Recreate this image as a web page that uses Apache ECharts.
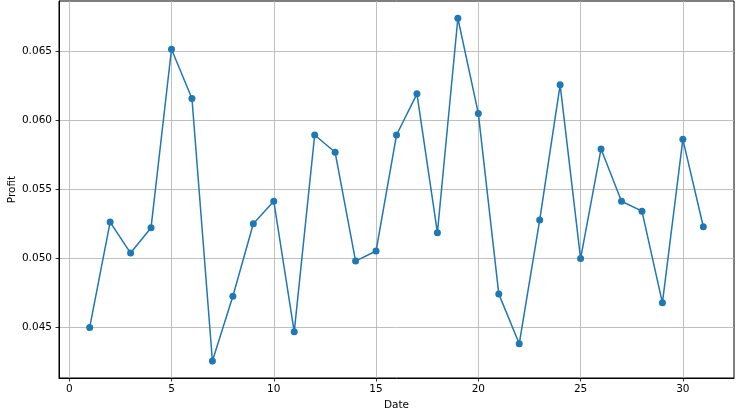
<!DOCTYPE html>
<html>
<head>
<meta charset="utf-8">
<script src="https://cdn.jsdelivr.net/npm/echarts@6/dist/echarts.min.js"></script>
<style>
  html, body { margin: 0; padding: 0; background: #fff; }
  #chart { width: 740px; height: 418px; }
</style>
</head>
<body>
<div id="chart"></div>
<script>
// days 1..31 and the profit
const dates = [1, 2, 3, 4, 5, 6, 7, 8, 9, 10, 11, 12, 13, 14, 15, 16, 17, 18, 19, 20, 21, 22, 23, 24, 25, 26, 27, 28, 29, 30, 31]
const profit = [
  0.04500, 0.05264, 0.05039, 0.05223, 0.06517, 0.06160, 0.04256, 0.04726,
  0.05252, 0.05415, 0.04468, 0.05895, 0.05770, 0.04981, 0.05054, 0.05895,
  0.06194, 0.05187, 0.06742, 0.06052, 0.04743, 0.04381, 0.05278, 0.06259,
  0.04999, 0.05794, 0.05415, 0.05343, 0.04678, 0.05864, 0.05230
]
const xTicks = [0, 5, 10, 15, 20, 25, 30]
const yTicks = [0.045, 0.050, 0.055, 0.060, 0.065]

const chart = echarts.init(document.getElementById('chart'))
const font = 'DejaVu Sans'
const gridLine = { show: true, lineStyle: { color: '#b0b0b0', width: 0.8 } }

chart.setOption({
  animation: false,
  grid: {
    left: 59, right: 6, top: 1, bottom: 40,
    containLabel: false,
    outerBoundsMode: 'none',
    show: true, borderColor: '#000', borderWidth: 1
  },
  xAxis: {
    type: 'value',
    min: -0.5,
    max: 32.5,
    name: 'Date',
    nameLocation: 'middle',
    nameGap: 22,
    nameMoveOverlap: false,
    nameTextStyle: { fontFamily: font, fontSize: 10.5, color: '#000' },
    axisLine: { show: true, onZero: false, lineStyle: { color: '#000', width: 1 } },
    axisTick: { show: true, customValues: xTicks, length: 3.5, lineStyle: { color: '#000', width: 0.8 } },
    axisLabel: { customValues: xTicks, fontFamily: font, fontSize: 10.5, color: '#000', margin: 6 },
    splitLine: gridLine
  },
  yAxis: {
    type: 'value',
    min: 0.04133,
    max: 0.06867,
    name: 'Profit',
    nameLocation: 'middle',
    nameGap: 41,
    nameMoveOverlap: false,
    nameTextStyle: { fontFamily: font, fontSize: 10.5, color: '#000' },
    axisLine: { show: true, onZero: false, lineStyle: { color: '#000', width: 1 } },
    axisTick: { show: true, customValues: yTicks, length: 3.5, lineStyle: { color: '#000', width: 0.8 } },
    axisLabel: {
      customValues: yTicks, fontFamily: font, fontSize: 10.5, color: '#000', margin: 7,
      formatter: v => v.toFixed(3)
    },
    splitLine: gridLine
  },
  series: [
    {
      type: 'line',
      data: dates.map((d, i) => [d, profit[i]]),
      symbol: 'circle',
      symbolSize: 7,
      lineStyle: { color: '#1f77b4', width: 1.5 },
      itemStyle: { color: '#1f77b4' }
    }
  ]
})
</script>
</body>
</html>
